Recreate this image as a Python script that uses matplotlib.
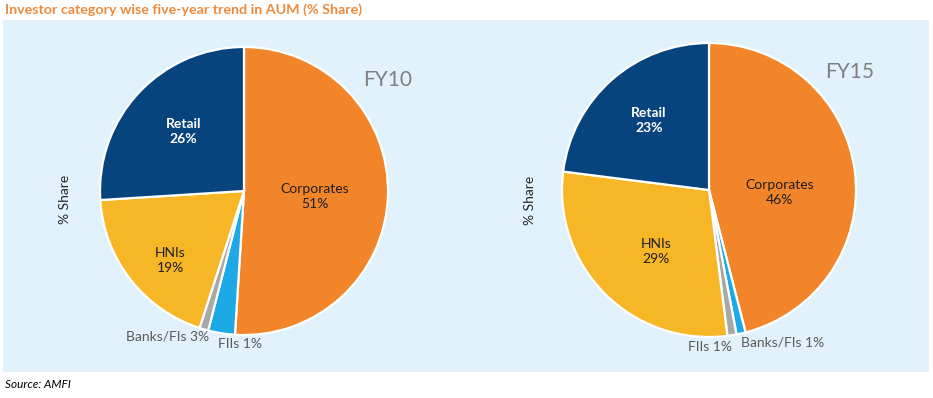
import matplotlib.pyplot as plt
from matplotlib.patches import Rectangle

plt.rcParams['font.family'] = ['Lato', 'DejaVu Sans']

# data
categories = ['Corporates', 'Banks/FIs', 'FIIs', 'HNIs', 'Retail']
fy10 = [51, 3, 1, 19, 26]
fy15 = [46, 1, 1, 29, 23]
colors = ['#F28429', '#1CA9E6', '#A8A8A8', '#F6B625', '#07447E']

W, H = 933, 398

fig = plt.figure(figsize=(W / 100, H / 100), dpi=100)
fig.patch.set_facecolor('white')
fig.patches.append(Rectangle((3 / W, 26 / H), 926 / W, 352 / H, transform=fig.transFigure,
                             facecolor='#E1F2FC', edgecolor='none', zorder=-5))

fig.text(5 / W, 1 - 10 / H, 'Investor category wise five-year trend in AUM (% Share)',
         color='#EE8A3C', fontsize=10.3, fontweight='bold', va='center', ha='left')
fig.text(5 / W, 1 - 385 / H, 'Source: AMFI', fontsize=8.5, style='italic', va='center', ha='left')

XL, YL = 1.6, 1.28


def make_axes(cx, cy, scale):
    ax = fig.add_axes([(cx - XL * scale) / W, (H - cy - YL * scale) / H,
                       2 * XL * scale / W, 2 * YL * scale / H])
    ax.set_zorder(1)
    ax.patch.set_visible(False)
    return ax


def draw(ax, values, year, pos):
    ax.pie(values, colors=colors, startangle=90, counterclock=False, radius=1,
           wedgeprops=dict(edgecolor='white', linewidth=1.6))
    ax.set_xlim(-XL, XL)
    ax.set_ylim(-YL, YL)
    ax.set_aspect('auto')
    ax.axis('off')
    for cat, v in zip(categories, values):
        x, y = pos[cat]
        if cat == 'Retail':
            ax.text(x, y, f'{cat}\n{v}%', color='white', fontweight='bold', fontsize=10,
                    ha='center', va='center', linespacing=1.3)
        elif cat in ('Corporates', 'HNIs'):
            ax.text(x, y, f'{cat}\n{v}%', color='#1E1E1E', fontsize=10,
                    ha='center', va='center', linespacing=1.3)
        else:
            ax.text(x, y, f'{cat} {v}%', color='#595959', fontsize=10,
                    ha='center', va='center')
    ax.text(*pos['year'], year, color='#7F7F7F', fontsize=15, ha='center', va='center')
    ax.text(*pos['share'], '% Share', color='#262626', fontsize=10, rotation=90,
            ha='center', va='center')


pos10 = {'Retail': (-0.42, 0.41), 'HNIs': (-0.51, -0.48), 'Corporates': (0.49, -0.04),
         'Banks/FIs': (-0.53, -1.01), 'FIIs': (-0.03, -1.06), 'year': (1.0, 0.77),
         'share': (-1.24, -0.06)}
pos15 = {'Retail': (-0.41, 0.47), 'HNIs': (-0.36, -0.42), 'Corporates': (0.48, -0.02),
         'FIIs': (0.01, -1.07), 'Banks/FIs': (0.50, -1.04), 'year': (0.96, 0.80),
         'share': (-1.22, -0.07)}

ax1 = make_axes(244, 191, 144)
draw(ax1, fy10, 'FY10', pos10)
ax2 = make_axes(709, 190, 147)
draw(ax2, fy15, 'FY15', pos15)

fig.savefig('out.png', dpi=100)
